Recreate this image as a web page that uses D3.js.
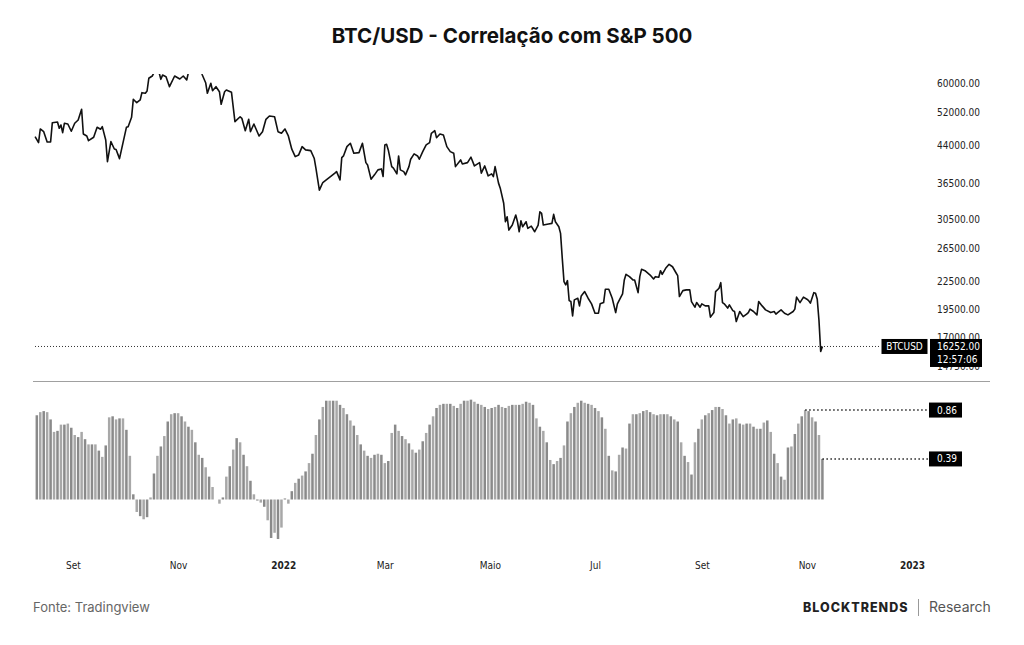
<!DOCTYPE html>
<html>
<head>
<meta charset="utf-8">
<script src="https://cdnjs.cloudflare.com/ajax/libs/d3/7.8.5/d3.min.js"></script>
<style>
	body { margin: 0; background: #fff; }
	.axis text { font-family: "DejaVu Sans", sans-serif; font-stretch: condensed; font-size: 10px; fill: #222; }
</style>
</head>
<body>
<svg id="container" width="1024" height="645"></svg>
<script>
// BTC/USD closes (values above ~63k are cut by the pane)
const priceDates = [
	"2021-08-10","2021-08-12","2021-08-13","2021-08-15","2021-08-17","2021-08-19","2021-08-20","2021-08-23","2021-08-24","2021-08-25",
	"2021-08-26","2021-08-27","2021-08-29","2021-08-31","2021-09-02","2021-09-04","2021-09-06","2021-09-07","2021-09-09","2021-09-10",
	"2021-09-13","2021-09-15","2021-09-17","2021-09-18","2021-09-20","2021-09-21","2021-09-23","2021-09-25","2021-09-26","2021-09-28",
	"2021-10-02","2021-10-03","2021-10-05","2021-10-06","2021-10-08","2021-10-10","2021-10-11","2021-10-13","2021-10-14","2021-10-15",
	"2021-10-17","2021-10-19","2021-10-20","2021-10-21","2021-10-22","2021-10-23","2021-10-25","2021-10-27","2021-10-30","2021-11-02",
	"2021-11-04","2021-11-06","2021-11-07","2021-11-08","2021-11-10","2021-11-12","2021-11-14","2021-11-15","2021-11-17","2021-11-18",
	"2021-11-20","2021-11-21","2021-11-23","2021-11-25","2021-11-26","2021-11-28","2021-11-29","2021-12-02","2021-12-04","2021-12-07",
	"2021-12-08","2021-12-10","2021-12-12","2021-12-13","2021-12-15","2021-12-18","2021-12-20","2021-12-22","2021-12-24","2021-12-27",
	"2021-12-29","2021-12-31","2022-01-02","2022-01-04","2022-01-06","2022-01-08","2022-01-10","2022-01-12","2022-01-14","2022-01-17",
	"2022-01-19","2022-01-20","2022-01-22","2022-01-24","2022-01-26","2022-01-29","2022-01-31","2022-02-01","2022-02-03","2022-02-04",
	"2022-02-05","2022-02-07","2022-02-09","2022-02-11","2022-02-14","2022-02-16","2022-02-18","2022-02-19","2022-02-21","2022-02-23",
	"2022-02-25","2022-02-27","2022-02-28","2022-03-01","2022-03-02","2022-03-03","2022-03-05","2022-03-06","2022-03-08","2022-03-09",
	"2022-03-10","2022-03-12","2022-03-13","2022-03-15","2022-03-16","2022-03-18","2022-03-20","2022-03-21","2022-03-23","2022-03-25",
	"2022-03-27","2022-03-28","2022-03-30","2022-03-31","2022-04-02","2022-04-04","2022-04-06","2022-04-08","2022-04-10","2022-04-11",
	"2022-04-14","2022-04-15","2022-04-18","2022-04-20","2022-04-22","2022-04-25","2022-04-26","2022-04-28","2022-04-30","2022-05-02",
	"2022-05-03","2022-05-04","2022-05-06","2022-05-07","2022-05-09","2022-05-10","2022-05-11","2022-05-12","2022-05-14","2022-05-16",
	"2022-05-17","2022-05-18","2022-05-19","2022-05-20","2022-05-22","2022-05-23","2022-05-25","2022-05-27","2022-05-29","2022-05-30",
	"2022-05-31","2022-06-01","2022-06-04","2022-06-06","2022-06-07","2022-06-08","2022-06-10","2022-06-11","2022-06-12","2022-06-13",
	"2022-06-14","2022-06-15","2022-06-16","2022-06-17","2022-06-18","2022-06-19","2022-06-21","2022-06-22","2022-06-23","2022-06-25",
	"2022-06-27","2022-06-29","2022-07-01","2022-07-03","2022-07-04","2022-07-06","2022-07-07","2022-07-09","2022-07-11","2022-07-13",
	"2022-07-14","2022-07-16","2022-07-17","2022-07-18","2022-07-19","2022-07-21","2022-07-23","2022-07-24","2022-07-26","2022-07-27",
	"2022-07-28","2022-07-30","2022-08-02","2022-08-04","2022-08-05","2022-08-07","2022-08-08","2022-08-09","2022-08-11","2022-08-13",
	"2022-08-15","2022-08-17","2022-08-18","2022-08-19","2022-08-21","2022-08-23","2022-08-25","2022-08-26","2022-08-28","2022-08-29",
	"2022-08-31","2022-09-01","2022-09-03","2022-09-05","2022-09-06","2022-09-08","2022-09-09","2022-09-11","2022-09-12","2022-09-13",
	"2022-09-14","2022-09-16","2022-09-17","2022-09-19","2022-09-20","2022-09-21","2022-09-23","2022-09-25","2022-09-27","2022-09-28",
	"2022-09-29","2022-10-01","2022-10-03","2022-10-04","2022-10-06","2022-10-08","2022-10-11","2022-10-13","2022-10-14","2022-10-15",
	"2022-10-17","2022-10-19","2022-10-21","2022-10-24","2022-10-25","2022-10-26","2022-10-28","2022-10-30","2022-11-01","2022-11-02",
	"2022-11-03","2022-11-05","2022-11-06","2022-11-07","2022-11-08","2022-11-09","2022-11-10"
];
const priceValues = [
	46040,44690,47830,47190,44850,44850,49350,49520,48000,48790,
	46960,49200,49030,47290,49200,50010,52740,46660,46200,45140,
	45900,48230,47760,48380,45290,40670,44920,43300,43200,41280,
	48230,48380,50680,55420,54490,55230,57270,57100,57750,61510,
	62210,64300,66000,63200,61200,62500,62000,58990,62210,61290,
	62210,60990,63300,67500,65000,64200,65500,62600,60180,57100,
	60000,57840,58990,57550,54060,57550,58040,57380,49590,50830,
	50430,47430,50180,47190,49030,46200,47190,50180,51010,50830,
	47190,46820,47830,46200,43260,41700,42050,43820,43110,42960,
	41370,39370,35300,36670,37160,37900,38410,38710,37160,41490,
	41840,43820,44560,42400,42530,44560,40470,40010,37290,38090,
	39040,39230,37770,44190,44340,43110,39680,39370,38280,41840,
	39040,38710,38090,39680,41160,42260,41840,41160,42740,44190,
	44690,46820,47430,45810,46660,46430,43820,42740,42400,39680,
	41020,40210,40470,41580,39820,40470,38410,39820,37900,38280,
	37770,39680,36560,35660,33080,30180,30940,28960,29690,31210,
	30180,28720,30330,29440,30180,29210,29540,28720,29690,31720,
	31470,29690,29840,29940,31310,30180,29440,28490,25170,22420,
	22060,22530,20410,20310,18920,20480,20650,19880,20890,21340,
	20650,20080,19170,19170,20080,20210,21590,21590,20650,19230,
	20080,20760,21100,22610,23250,22980,22610,22610,21230,22980,
	23830,23670,23170,22720,22980,22910,23670,23250,23950,24430,
	24140,23430,23090,20820,21440,21520,21520,20310,19750,20210,
	19750,20080,19880,19880,18800,19230,21340,21700,22310,20210,
	20080,19660,19980,19420,19330,18390,19330,18850,19080,19230,
	19560,19330,19010,20310,19880,19490,19230,19330,19080,19230,
	19490,19170,19010,19330,19560,20760,20210,20760,20550,20410,
	20150,21230,21170,20550,18500,15850,16252
];
const lastTime = "12:57:06";

// correlation with S&P 500, one bar every 2 days from corrStart
const corrStart = "2021-08-11";
const corrStep = 2;
const corrValues = [
	0.81,0.84,0.85,0.84,0.77,0.65,0.66,0.72,0.72,0.73,
	0.69,0.62,0.60,0.65,0.58,0.53,0.53,0.53,0.47,0.41,
	0.52,0.79,0.80,0.77,0.78,0.78,0.67,0.42,0.05,-0.12,
	-0.16,-0.19,-0.17,0.02,0.25,0.42,0.51,0.61,0.75,0.82,
	0.83,0.83,0.80,0.75,0.70,0.67,0.55,0.43,0.40,0.31,
	0.22,0.12,0.00,-0.04,0.02,0.22,0.32,0.48,0.59,0.55,
	0.43,0.32,0.18,0.05,-0.01,-0.03,-0.07,-0.20,-0.37,-0.32,
	-0.38,-0.27,0.01,-0.04,0.08,0.16,0.20,0.23,0.27,0.35,
	0.44,0.62,0.77,0.89,0.95,0.95,0.95,0.95,0.91,0.88,
	0.82,0.76,0.71,0.62,0.53,0.47,0.42,0.40,0.43,0.44,
	0.43,0.35,0.37,0.64,0.72,0.66,0.61,0.58,0.54,0.48,
	0.45,0.48,0.56,0.64,0.72,0.80,0.88,0.91,0.92,0.92,
	0.92,0.90,0.88,0.92,0.95,0.95,0.96,0.94,0.92,0.91,
	0.89,0.87,0.88,0.89,0.91,0.89,0.88,0.90,0.91,0.91,
	0.91,0.92,0.94,0.93,0.91,0.78,0.70,0.66,0.55,0.38,
	0.34,0.37,0.40,0.52,0.75,0.83,0.89,0.93,0.95,0.93,
	0.92,0.91,0.88,0.85,0.79,0.68,0.42,0.28,0.27,0.43,
	0.50,0.49,0.73,0.82,0.82,0.83,0.85,0.86,0.84,0.82,
	0.81,0.82,0.82,0.82,0.80,0.77,0.75,0.55,0.42,0.36,
	0.24,0.55,0.68,0.77,0.81,0.83,0.86,0.89,0.89,0.87,
	0.81,0.73,0.77,0.78,0.73,0.72,0.73,0.73,0.70,0.68,
	0.68,0.74,0.76,0.65,0.44,0.35,0.22,0.19,0.50,0.51,
	0.63,0.73,0.80,0.86,0.85,0.79,0.75,0.62,0.39
];

// axis labels
const priceTicks = [60000, 52000, 44000, 36500, 30500, 26500, 22500, 19500, 17000, 14750];
const corrTicks = [1, 0.5, 0, -0.5];
const monthTicks = ["2021-09-01","2021-11-01","2022-01-01","2022-03-01","2022-05-01","2022-07-01","2022-09-01","2022-11-01","2023-01-01"];
const monthLabels = ["Set","Nov","2022","Mar","Maio","Jul","Set","Nov","2023"];

function drawChart() {
	const parse = d3.utcParse("%Y-%m-%d");
	const svg = d3.select("#container");

	const prices = priceDates.map((d, i) => ({ date: parse(d), value: priceValues[i] }));
	const corr = corrValues.map((v, i) => ({ date: d3.utcDay.offset(parse(corrStart), i * corrStep), value: v }));

	// scales
	var x = d3.scaleUtc().domain([parse("2021-09-01"), parse("2023-01-01")]).range([73, 912]);
	var yPrice = d3.scaleLog().domain([13693, 62834]).range([381, 74]);
	var yCorr = d3.scaleLinear().domain([0, 1]).range([499.5, 395.5]);

	// clip paths for the two panes
	const defs = svg.append("defs");
	defs.append("clipPath").attr("id", "clipTop").append("rect")
		.attr("x", 30).attr("y", 74).attr("width", 905).attr("height", 307);
	defs.append("clipPath").attr("id", "clipBottom").append("rect")
		.attr("x", 30).attr("y", 382).attr("width", 970).attr("height", 173);

	// title
	svg.append("text")
		.attr("x", 512).attr("y", 43)
		.attr("text-anchor", "middle")
		.style("font-family", "Inter, sans-serif")
		.style("font-weight", 700)
		.style("font-size", "20.5px")
		.style("fill", "#111")
		.text("BTC/USD - Correlação com S&P 500");

	// pane separator
	svg.append("line")
		.attr("x1", 33).attr("x2", 990)
		.attr("y1", 381.5).attr("y2", 381.5)
		.attr("stroke", "#a0a0a0")
		.attr("stroke-width", 1.2);

	// price axis
	var gY = svg.append("g")
		.attr("class", "axis")
		.attr("transform", "translate(937,0)")
		.call(d3.axisRight(yPrice).tickValues(priceTicks).tickFormat(d3.format(".2f")).tickSize(0).tickPadding(0));
	gY.select(".domain").remove();

	// correlation axis
	var gC = svg.append("g")
		.attr("class", "axis")
		.attr("clip-path", "url(#clipBottom)")
		.attr("transform", "translate(937,0)")
		.call(d3.axisRight(yCorr).tickValues(corrTicks).tickFormat(d3.format(".2f")).tickSize(0).tickPadding(0));
	gC.select(".domain").remove();

	// time axis
	var gX = svg.append("g")
		.attr("class", "axis")
		.attr("transform", "translate(0,561.5)")
		.call(d3.axisBottom(x).tickValues(monthTicks.map(parse)).tickFormat((d, i) => monthLabels[i]).tickSize(0).tickPadding(0));
	gX.select(".domain").remove();
	gX.selectAll(".tick text")
		.style("font-weight", (d, i) => /^\d+$/.test(monthLabels[i]) ? 700 : 400);

	// last price dotted line
	const last = prices[prices.length - 1];
	svg.append("line")
		.attr("x1", 35).attr("x2", 881)
		.attr("y1", yPrice(last.value)).attr("y2", yPrice(last.value))
		.attr("stroke", "#333")
		.attr("stroke-width", 1)
		.attr("stroke-dasharray", "1,2");

	// price line
	var line = d3.line()
		.x(d => x(d.date))
		.y(d => yPrice(d.value));

	svg.append("path")
		.datum(prices)
		.attr("clip-path", "url(#clipTop)")
		.attr("d", line)
		.attr("fill", "none")
		.attr("stroke", "#111")
		.attr("stroke-width", 1.6)
		.attr("stroke-linejoin", "round");

	// correlation bars
	svg.append("g")
		.attr("clip-path", "url(#clipBottom)")
		.selectAll(".bar")
		.data(corr)
		.enter()
		.append("rect")
		.attr("class", "bar")
		.attr("x", d => x(d.date) - 1.25)
		.attr("width", 2.5)
		.attr("y", d => Math.min(yCorr(d.value), yCorr(0)))
		.attr("height", d => Math.abs(yCorr(d.value) - yCorr(0)))
		.attr("fill", (d, i) => i % 2 ? "#a8a8a8" : "#8a8a8a");

	// label boxes on the price scale
	const yl = yPrice(last.value);
	svg.append("rect").attr("x", 881.5).attr("y", yl - 7.5).attr("width", 46).attr("height", 15).attr("fill", "#000");
	svg.append("text").attr("x", 904.5).attr("y", yl).attr("dy", "0.35em")
		.attr("text-anchor", "middle").style("fill", "#fff").style("font-family", "DejaVu Sans, sans-serif")
		.style("font-stretch", "condensed").style("font-size", "10px").text("BTCUSD");
	svg.append("rect").attr("x", 930).attr("y", yl - 7.5).attr("width", 52).attr("height", 28).attr("fill", "#000");
	[d3.format(".2f")(last.value), lastTime].forEach((t, i) => {
		svg.append("text").attr("x", 937).attr("y", yl + i * 13.5).attr("dy", "0.35em")
			.style("fill", "#fff").style("font-family", "DejaVu Sans, sans-serif")
			.style("font-stretch", "condensed").style("font-size", "10px").text(t);
	});

	// correlation markers: recent high and last value
	const n = corr.length;
	const recent = corr.slice(n - 10);
	const peak = recent[d3.maxIndex(recent, d => d.value)];
	const lastC = corr[n - 1];
	[peak, lastC].forEach(d => {
		const yy = yCorr(d.value);
		svg.append("line")
			.attr("x1", x(d.date)).attr("x2", 929)
			.attr("y1", yy).attr("y2", yy)
			.attr("stroke", "#222")
			.attr("stroke-width", 1.5)
			.attr("stroke-dasharray", "1.5,2.5");
		svg.append("rect").attr("x", 929).attr("y", yy - 7.5).attr("width", 33).attr("height", 15).attr("fill", "#000");
		svg.append("text").attr("x", 937).attr("y", yy).attr("dy", "0.35em")
			.style("fill", "#fff").style("font-family", "DejaVu Sans, sans-serif")
			.style("font-stretch", "condensed").style("font-size", "10px")
			.text(d3.format(".2f")(d.value));
	});

	// footer
	svg.append("text")
		.attr("x", 33).attr("y", 612)
		.style("font-family", "Inter, sans-serif")
		.style("font-size", "13px")
		.style("fill", "#666")
		.text("Fonte: Tradingview");

	svg.append("text")
		.attr("x", 803).attr("y", 612)
		.style("font-family", "Inter, sans-serif")
		.style("font-weight", 800)
		.style("font-size", "12.5px")
		.style("letter-spacing", "1px")
		.style("fill", "#222")
		.text("BLOCKTRENDS");

	svg.append("line")
		.attr("x1", 918.5).attr("x2", 918.5)
		.attr("y1", 599).attr("y2", 616)
		.attr("stroke", "#999");

	svg.append("text")
		.attr("x", 929).attr("y", 612)
		.style("font-family", "Inter, sans-serif")
		.style("font-size", "14px")
		.style("fill", "#555")
		.text("Research");
}

drawChart();
</script>
</body>
</html>
